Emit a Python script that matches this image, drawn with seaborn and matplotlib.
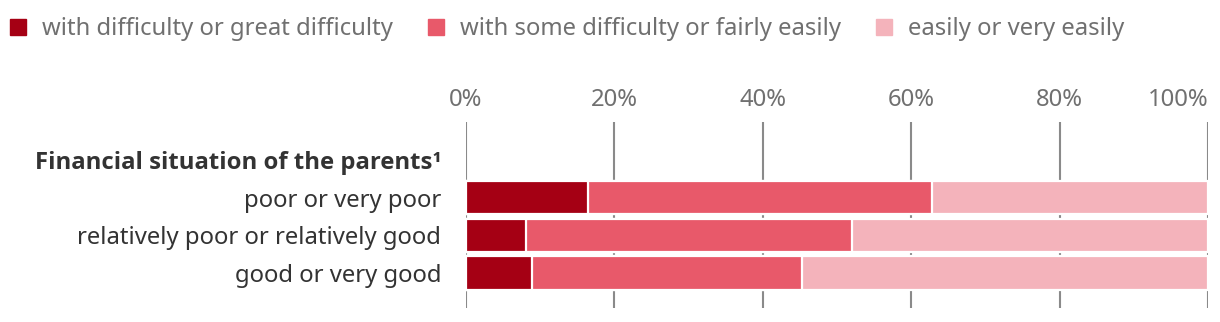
import matplotlib
matplotlib.use("Agg")
import matplotlib.pyplot as plt
from matplotlib.lines import Line2D
import matplotlib.transforms as mtransforms
from matplotlib import font_manager
import seaborn as sns
import pandas as pd
import numpy as np

header = "Financial situation of the parents¹"
categories = ["poor or very poor", "relatively poor or relatively good", "good or very good"]
series_names = ["with difficulty or great difficulty", "with some difficulty or fairly easily", "easily or very easily"]
difficult = [16.4, 8.1, 8.9]
some = [46.4, 43.9, 36.4]
easy = [37.2, 48.0, 54.7]
colors = ["#A50014", "#E8596A", "#F4B3BB"]
xticks = [0, 20, 40, 60, 80, 100]
xticklabels = ["0%", "20%", "40%", "60%", "80%", "100%"]

sns.set_theme(style="white")
plt.rcParams["font.family"] = ["Noto Sans", "DejaVu Sans"]
FS = 17.2

# choose a family that really has a bold face for the header
bold_family = "DejaVu Sans"
for fam in ["Noto Sans", "Open Sans", "Lato", "Roboto", "Liberation Sans"]:
    try:
        fp = font_manager.FontProperties(family=fam, weight="bold")
        path = font_manager.findfont(fp, fallback_to_default=False)
        if "bold" in path.lower() or "black" in path.lower() or "heavy" in path.lower():
            bold_family = fam
            break
    except Exception:
        pass

df = pd.DataFrame({"cat": categories, "d": difficult, "s": some, "e": easy})
df["c1"] = df["d"]
df["c2"] = df["d"] + df["s"]
df["c3"] = df["d"] + df["s"] + df["e"]

order = [header] + categories

fig = plt.figure(figsize=(12.2, 3.22), dpi=100)
ax = fig.add_axes([466 / 1220, 1 - 308 / 322, (1208 - 466) / 1220, (308 - 122) / 322])

for col, color in zip(["c3", "c2", "c1"], colors[::-1]):
    sns.barplot(data=df, x=col, y="cat", order=order, orient="h", color=color,
                saturation=1, width=0.89, edgecolor="white", linewidth=1.6, ax=ax, zorder=2)

ax.set_xlim(0, 100)
ax.set_ylim(3.92, -1.0)
ax.set_xlabel("")
ax.set_ylabel("")
for s in ax.spines.values():
    s.set_visible(False)
ax.set_xticks(xticks)
ax.set_xticklabels(xticklabels)
ax.xaxis.tick_top()
ax.tick_params(axis="x", length=0, pad=7, labelsize=FS, labelcolor="#707070")
xl = ax.get_xticklabels()
xl[-1].set_horizontalalignment("right")

ax.set_yticks(range(len(order)))
ax.set_yticklabels([""] + categories)
ax.tick_params(axis="y", length=0, pad=18, labelsize=FS, labelcolor="#333333")

trans = mtransforms.blended_transform_factory(ax.transAxes, ax.transData)
trans = mtransforms.offset_copy(trans, fig=fig, x=-18, y=0, units="points")
ax.text(0, 0, header, transform=trans, ha="right", va="center_baseline",
        fontsize=FS, fontweight="bold", color="#333333",
        family=[bold_family, "DejaVu Sans"])

ax.grid(axis="x", color="#8a8a8a", linewidth=1.5)
ax.grid(axis="y", visible=False)
ax.set_axisbelow(True)

handles = [Line2D([0], [0], marker="s", linestyle="none", markersize=11.5,
                  markerfacecolor=c, markeredgecolor=c) for c in colors]
leg = fig.legend(handles, series_names, loc="upper left", bbox_to_anchor=(10 / 1220, 1 - 17 / 322),
                 ncol=3, frameon=False, fontsize=FS, handlelength=0.67,
                 handletextpad=0.67, columnspacing=1.46, borderaxespad=0, borderpad=0)
for t in leg.get_texts():
    t.set_color("#707070")

fig.savefig("out.png", dpi=100)
